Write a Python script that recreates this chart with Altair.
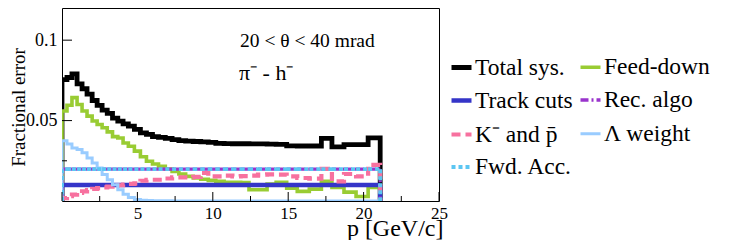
import altair as alt
import pandas as pd

# ---------------- data ----------------
edges = [0, 0.33, 0.66, 1.0, 1.33, 1.66, 2.0, 2.33, 2.66, 3.0,
         3.35, 3.7, 4.05, 4.4, 4.8, 5.2, 5.6, 6.0, 6.4, 6.85,
         7.3, 7.75, 8.2, 8.7, 9.2, 9.7, 10.2, 10.75, 11.3, 11.85,
         12.4, 13.0, 13.6, 14.2, 14.9, 15.6, 16.4, 17.2, 17.9, 18.7,
         19.5, 20.3, 21.1]

total_sys = [0.0755, 0.0768, 0.0790, 0.0728, 0.0698, 0.0665, 0.0625, 0.0595, 0.0565, 0.0545,
             0.0515, 0.0497, 0.0480, 0.0466, 0.0445, 0.0424, 0.0414, 0.0400, 0.0395, 0.0389,
             0.0382, 0.0376, 0.0372, 0.0370, 0.0368, 0.0364, 0.0358, 0.0357, 0.0356, 0.0356,
             0.0355, 0.0355, 0.0354, 0.0352, 0.0343, 0.0342, 0.0342, 0.0390, 0.0336, 0.0350,
             0.0350, 0.0392]

feed_down = [0.0560, 0.0595, 0.0643, 0.0600, 0.0560, 0.0528, 0.0497, 0.0476, 0.0455, 0.0430,
             0.0400, 0.0392, 0.0361, 0.0340, 0.0310, 0.0275, 0.0247, 0.0230, 0.0216, 0.0199,
             0.0184, 0.0168, 0.0153, 0.0143, 0.0135, 0.0128, 0.0122, 0.0116, 0.0116, 0.0114,
             0.0070, 0.0070, 0.0105, 0.0116, 0.0080, 0.0060, 0.0074, 0.0122, 0.0084, 0.0055,
             0.0028, 0.0084]

track_cuts = [0.0099] * 42
rec_algo = [0.0198] * 42
fwd_acc = [0.0198] * 42

k_pbar = [0.0018, 0.0030, 0.0040, 0.0050, 0.0060, 0.0068, 0.0075, 0.0080, 0.0085, 0.0090,
          0.0095, 0.0098, 0.0102, 0.0106, 0.0110, 0.0126, 0.0132, 0.0132, 0.0132, 0.0140,
          0.0147, 0.0147, 0.0147, 0.0150, 0.0174, 0.0153, 0.0153, 0.0158, 0.0153, 0.0155,
          0.0158, 0.0164, 0.0165, 0.0164, 0.0153, 0.0143, 0.0139, 0.0200, 0.0122, 0.0168,
          0.0153, 0.0224]

lambda_w = [0.0375, 0.0355, 0.0330, 0.0320, 0.0300, 0.0268, 0.0236, 0.0205, 0.0164, 0.0132,
            0.0101, 0.0070, 0.0042, 0.0022, 0.0010, 0.0005, 0.0003, 0.0002, 0.0001, 0.0001,
            0.0, 0.0, 0.0, 0.0, 0.0, 0.0, 0.0, 0.0, 0.0, 0.0,
            0.0, 0.0, 0.0, 0.0, 0.0, 0.0, 0.0, 0.0, 0.0, 0.0,
            0.0, 0.0]

names = ["Total sys.", "Feed-down", "Track cuts", "Rec. algo",
         "K\u207b and p\u0304", "\u039b weight", "Fwd. Acc."]
series = [total_sys, feed_down, track_cuts, rec_algo, k_pbar, lambda_w, fwd_acc]

x_major = [0, 5, 10, 15, 20, 25]
x_minor = [2.5, 7.5, 12.5, 17.5, 22.5]
y_major = [0.05, 0.1]
y_minor = [0.025, 0.075]

# ---------------- styles ----------------
style = {
    "Total sys.": ("#000000", [1, 0], 4.8),
    "Feed-down": ("#99cc33", [1, 0], 3.5),
    "Track cuts": ("#3535c8", [1, 0], 3),
    "Rec. algo": ("#9933cc", [8, 3, 2, 3], 3),
    "K\u207b and p\u0304": ("#f7719f", [9, 5], 3),
    "\u039b weight": ("#99ccff", [1, 0], 3.5),
    "Fwd. Acc.": ("#5cc6f2", [4, 3], 3),
}
# legend fills column by column: this order shows the reference's two columns
legend_order = ["Total sys.", "Track cuts", "K\u207b and p\u0304", "Fwd. Acc.",
                "Feed-down", "Rec. algo", "\u039b weight"]
FONT = "Liberation Serif"

rows = []
for name, vals in zip(names, series):
    pts = [(edges[0], 0.0)] + list(zip(edges[:-1], vals)) + [(edges[-1], vals[-1]), (edges[-1], 0.0)]
    for i, (x, y) in enumerate(pts):
        rows.append({"series": name, "p": x, "err": y, "i": i})
df = pd.DataFrame(rows)

xs = alt.Scale(domain=[0, 25], nice=False, zero=False)
ys = alt.Scale(domain=[0, 0.12], nice=False, zero=False)
color_s = alt.Scale(domain=legend_order, range=[style[n][0] for n in legend_order])
dash_s = alt.Scale(domain=legend_order, range=[style[n][1] for n in legend_order])
width_s = alt.Scale(domain=legend_order, range=[style[n][2] for n in legend_order])

legend = alt.Legend(title=None, orient="none", legendX=387, legendY=47, columns=2,
                    symbolType="stroke", symbolSize=400, labelFont=FONT, labelFontSize=23.5,
                    labelColor="black", rowPadding=9, columnPadding=0, labelOffset=1,
                    padding=0, labelLimit=300)

xaxis = alt.Axis(values=[5, 10, 15, 20, 25], ticks=False, tickSize=0, domain=False, grid=False,
                 labelFont=FONT, labelFontSize=17, labelColor="black", labelPadding=4,
                 labelFlush=False, title="p [GeV/c]", titleFont=FONT, titleFontSize=24,
                 titleFontWeight="normal", titleColor="black", titleAnchor="end",
                 titleAlign="right", titleX=381, titleY=34, titleBaseline="alphabetic")
yaxis = alt.Axis(values=y_major, format="~g", ticks=False, tickSize=0, domain=False, grid=False,
                 labelFont=FONT, labelFontSize=18, labelColor="black", labelPadding=5,
                 title="Fractional error", titleFont=FONT, titleFontSize=19,
                 titleFontWeight="normal", titleColor="black", titleAngle=-90,
                 titleX=-38, titleY=99, titleAlign="center", titleBaseline="alphabetic")


def line_layer(name):
    return alt.Chart(df).transform_filter(alt.datum.series == name).mark_line(
        interpolate="step-after", clip=True
    ).encode(
        x=alt.X("p:Q", scale=xs, axis=xaxis),
        y=alt.Y("err:Q", scale=ys, axis=yaxis),
        color=alt.Color("series:N", scale=color_s, legend=legend),
        strokeDash=alt.StrokeDash("series:N", scale=dash_s, legend=legend),
        strokeWidth=alt.StrokeWidth("series:N", scale=width_s, legend=legend),
        order="i:Q",
    )


layers = [line_layer(n) for n in names]

H = 193
xtm = alt.Chart(pd.DataFrame({"p": x_major})).mark_rule(color="black", strokeWidth=1).encode(
    x=alt.X("p:Q", scale=xs, axis=xaxis), y=alt.value(H), y2=alt.value(H - 9))
xtn = alt.Chart(pd.DataFrame({"p": x_minor})).mark_rule(color="black", strokeWidth=1).encode(
    x=alt.X("p:Q", scale=xs, axis=xaxis), y=alt.value(H), y2=alt.value(H - 5))
ytm = alt.Chart(pd.DataFrame({"err": y_major})).mark_rule(color="black", strokeWidth=1).encode(
    y=alt.Y("err:Q", scale=ys, axis=yaxis), x=alt.value(0), x2=alt.value(10))
ytn = alt.Chart(pd.DataFrame({"err": y_minor})).mark_rule(color="black", strokeWidth=1).encode(
    y=alt.Y("err:Q", scale=ys, axis=yaxis), x=alt.value(0), x2=alt.value(5))

t1 = alt.Chart(pd.DataFrame({"t": ["20 < \u03b8 < 40 mrad"]})).mark_text(
    align="left", baseline="alphabetic", font=FONT, fontSize=19.5, color="black"
).encode(x=alt.value(178), y=alt.value(39), text="t:N")
t2 = alt.Chart(pd.DataFrame({"t": ["\u03c0\u207b - h\u207b"]})).mark_text(
    align="left", baseline="alphabetic", font=FONT, fontSize=22, color="black"
).encode(x=alt.value(177), y=alt.value(72), text="t:N")

chart = alt.layer(*layers, xtm, xtn, ytm, ytn, t1, t2).properties(
    width=377, height=H,
    autosize=alt.AutoSizeParams(type="none"),
    padding={"left": 54, "top": 0, "right": 300, "bottom": 39},
    background="white",
).configure_view(stroke="black", strokeWidth=1)

chart.save("out.html", embed_options={"renderer": "svg", "actions": False})
